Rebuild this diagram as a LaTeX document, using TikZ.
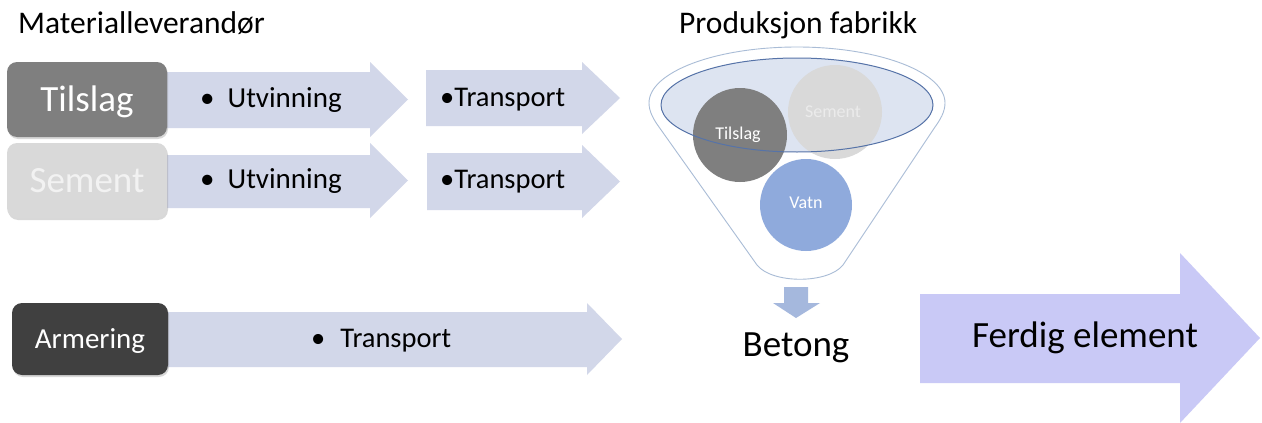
\documentclass[tikz,border=0pt]{standalone}
\usepackage{fontspec}
\setmainfont{Carlito}
\usetikzlibrary{shadows}
\definecolor{arrowfill}{HTML}{D2D7E9}
\definecolor{finalfill}{HTML}{C9C9F6}
\definecolor{tilslaggrey}{HTML}{7F7F7F}
\definecolor{sementgrey}{HTML}{D9D9D9}
\definecolor{armeringgrey}{HTML}{404040}
\definecolor{funnelline}{HTML}{A9BCD6}
\definecolor{rimfill}{HTML}{DDE4F1}
\definecolor{rimline}{HTML}{5673A8}
\definecolor{vatnblue}{HTML}{8FAADC}
\definecolor{downfill}{HTML}{A5B8DD}
\begin{document}
\begin{tikzpicture}[x=1pt,y=-1pt,
  lbl/.style={inner sep=0pt, text=black},
  box/.style={rounded corners=10pt, draw=none, inner sep=0pt,
    drop shadow={shadow xshift=1pt, shadow yshift=-2pt, opacity=0.3}},
  boxtext/.style={inner sep=0pt, text=white},
  ball/.style={circle, draw=none, inner sep=0pt, minimum size=94pt},
  balltext/.style={inner sep=0pt, text=white, font=\fontsize{18}{20}\selectfont}]
\fill[white] (0,0) rectangle (1262,423);
\useasboundingbox (0,0) rectangle (1262,423);

% titles
\node[lbl, anchor=base west, font=\fontsize{31.5}{34}\selectfont] (title1) at (18,33) {Materialleverandør};
\node[lbl, anchor=base west, font=\fontsize{31.5}{34}\selectfont] (title2) at (679,33) {Produksjon fabrikk};

% block arrows
\fill[arrowfill] (160,72) -- (370,72) -- (370,62) -- (408,99.5) -- (370,137) -- (370,128) -- (160,128) -- cycle;
\fill[arrowfill] (160,155) -- (370,155) -- (370,143) -- (408,180.5) -- (370,218) -- (370,208) -- (160,208) -- cycle;
\fill[arrowfill] (426,70) -- (582,70) -- (582,62) -- (620,98) -- (582,134) -- (582,126) -- (426,126) -- cycle;
\fill[arrowfill] (427,153) -- (582,153) -- (582,145) -- (620,181.5) -- (582,218) -- (582,210) -- (427,210) -- cycle;
\fill[arrowfill] (160,312) -- (587,312) -- (587,303) -- (622,339) -- (587,375) -- (587,367) -- (160,367) -- cycle;
\fill[finalfill] (920,294) -- (1180,294) -- (1180,253) -- (1260,338) -- (1180,423) -- (1180,383) -- (920,383) -- cycle;

% boxes
\node[box, fill=tilslaggrey, minimum width=160pt, minimum height=75pt] (tilslag) at (87,99.5) {};
\node[boxtext, anchor=base, font=\fontsize{37}{40}\selectfont] (tilslagtxt) at (87,111) {Tilslag};
\node[box, fill=sementgrey, minimum width=160pt, minimum height=75pt] (sement) at (87,180.5) {};
\node[boxtext, anchor=base, font=\fontsize{37}{40}\selectfont, text=white!95!black] (sementtxt) at (87,192) {Sement};
\node[box, fill=armeringgrey, minimum width=156pt, minimum height=72pt] (armering) at (90,339) {};
\node[boxtext, anchor=base, font=\fontsize{29}{32}\selectfont] (armeringtxt) at (90,348) {Armering};

% arrow texts
\node[lbl, anchor=base west, font=\fontsize{29}{32}\selectfont] (utv1) at (200,107) {•\hspace{13pt}Utvinning};
\node[lbl, anchor=base west, font=\fontsize{29}{32}\selectfont] (utv2) at (200,188) {•\hspace{13pt}Utvinning};
\node[lbl, anchor=base west, font=\fontsize{28.5}{32}\selectfont] (tr1) at (440,106) {•Transport};
\node[lbl, anchor=base west, font=\fontsize{28.5}{32}\selectfont] (tr2) at (440,188) {•Transport};
\node[lbl, anchor=base west, font=\fontsize{28.5}{32}\selectfont] (tr3) at (311,347) {•\hspace{15pt}Transport};
\node[lbl, anchor=base west, font=\fontsize{37}{40}\selectfont] (ferdig) at (972,347) {Ferdig element};

% funnel
\draw[funnelline, line width=0.9pt, fill=white]
  (649,103) arc[start angle=180, end angle=360, x radius=148, y radius=56]
  .. controls (945,112) and (940,120) .. (935,127)
  -- (843,265) .. controls (828,284) and (772,284) .. (757,265)
  -- (659,127) .. controls (654,120) and (649,112) .. (649,103) -- cycle;
\fill[rimfill] (797,105) ellipse[x radius=136, y radius=47];
\node[ball, fill=tilslaggrey] (ctilslag) at (740,135) {};
\node[ball, fill=sementgrey] (csement) at (835,112) {};
\node[ball, fill=vatnblue, minimum size=92pt] (cvatn) at (806,205) {};
\draw[rimline, line width=1pt] (797,105) ellipse[x radius=136, y radius=47];
\node[balltext] (ctilslagtxt) at (738,135) {Tilslag};
\node[balltext, text=white!92!black] (csementtxt) at (833,112) {Sement};
\node[balltext] (cvatntxt) at (806,203) {Vatn};

% down arrow
\fill[downfill] (784,287) -- (808,287) -- (808,303) -- (820,303) -- (796,318) -- (773,303) -- (784,303) -- cycle;
\node[lbl, anchor=base, font=\fontsize{37}{40}\selectfont] (betong) at (796,356) {Betong};
\end{tikzpicture}
\end{document}
